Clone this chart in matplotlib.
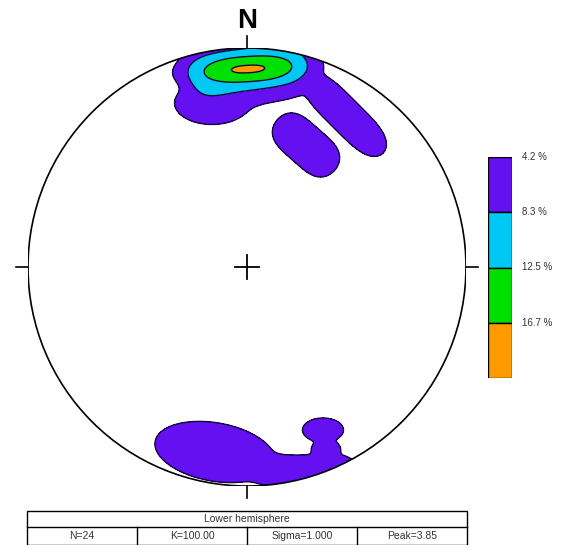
import numpy as np
import matplotlib
matplotlib.use("Agg")
import matplotlib.pyplot as plt
from matplotlib.patches import Circle, Rectangle
from matplotlib.transforms import blended_transform_factory

plt.rcParams['font.family'] = ['Liberation Sans', 'DejaVu Sans']

# ---------------- data ----------------
# density levels (percent) and their fill colours
levels = [4.2, 8.3, 12.5, 16.7]
level_labels = ["4.2 %", "8.3 %", "12.5 %", "16.7 %"]
level_colors = ["#6410f0", "#00c8f5", "#00e000", "#ff9a00"]

# pole concentrations (equal-area net, unit circle coordinates, x=East, y=North)
clu_x = [0.0046, 0.0, -0.1598, 0.4475, 0.2694, -0.1461, 0.2694, 0.3470, 0.3607]
clu_y = [0.9041, 0.8995, 0.7489, 0.6941, 0.5571, -0.8447, -0.9269, -0.7443, -0.8311]
clu_amp = [17.0, 11.0, 6.25, 6.25, 6.67, 5.83, 6.25, 6.25, 6.25]        # peak density, %
clu_sa = [0.2283, 0.2785, 0.1918, 0.2603, 0.1780, 0.3425, 0.2466, 0.1050, 0.0731]  # along
clu_sc = [0.0685, 0.1187, 0.1096, 0.0868, 0.0959, 0.1644, 0.0763, 0.0616, 0.0457]  # across
clu_ang = [3, 10, 0, -45, -41.6, -10, 3, 0, 0]                          # axis azimuth (deg)
clu_pow = [2.5, 6, 2, 4, 4, 2, 4, 2, 2]

table_title = "Lower hemisphere"
table_cells = ["N=24", "K=100.00", "Sigma=1.000", "Peak=3.85"]
north_label = "N"

# ---------------- figure ----------------
fig = plt.figure(figsize=(5.7, 5.45), dpi=100)
W, H = 570, 545

# table / background axes in pixel units
axp = fig.add_axes([0, 0, 1, 1])
axp.set_xlim(0, W)
axp.set_ylim(H, 0)
axp.axis('off')

# stereonet axes
cx, cy, R = 247, 267, 219
ax = fig.add_axes([(cx - R) / W, (H - (cy + R)) / H, 2 * R / W, 2 * R / H])
ax.set_xlim(-1, 1)
ax.set_ylim(-1, 1)
ax.axis('off')

g = np.linspace(-1.03, 1.03, 700)
X, Y = np.meshgrid(g, g)
Z = np.zeros_like(X)
K = 6.0
for x0, y0, a, sa, sc, ang, p in zip(clu_x, clu_y, clu_amp, clu_sa, clu_sc, clu_ang, clu_pow):
    t = np.radians(ang)
    u = (X - x0) * np.cos(t) + (Y - y0) * np.sin(t)
    v = -(X - x0) * np.sin(t) + (Y - y0) * np.cos(t)
    Z += (a * np.exp(-0.5 * np.abs(u / sa) ** p - 0.5 * (v / sc) ** 2)) ** K
Z = Z ** (1.0 / K)

clip = Circle((0, 0), 1.0, transform=ax.transData, facecolor='none', edgecolor='none')
ax.add_patch(clip)
cf = ax.contourf(X, Y, Z, levels=levels + [1e6], colors=level_colors)
cf.set_clip_path(clip)
cl = ax.contour(X, Y, Z, levels=levels, colors='#14083a', linewidths=1.0)
cl.set_clip_path(clip)

ax.add_patch(Circle((0, 0), 1.0, fill=False, edgecolor='black', lw=1.2, zorder=5))
tk = 12 / R
for (x1, y1, x2, y2) in [(0, 1, 0, 1 + tk), (0, -1, 0, -1 - tk), (1, 0, 1 + tk, 0), (-1, 0, -1 - tk, 0)]:
    ax.plot([x1, x2], [y1, y2], color='black', lw=1.2, clip_on=False, zorder=5)
cr = 12 / R
ax.plot([-cr, cr], [0, 0], color='black', lw=1.3, zorder=5)
ax.plot([0, 0], [-cr, cr], color='black', lw=1.3, zorder=5)
ax.text(0, (cy - 21) / R, north_label, ha='center', va='center', fontsize=20,
        fontweight='bold', clip_on=False)

# colour bar
cb_l, cb_r, cb_t, cb_b = 488, 512, 157, 378
axc = fig.add_axes([cb_l / W, (H - cb_b) / H, (cb_r - cb_l) / W, (cb_b - cb_t) / H])
n = len(levels)
axc.bar([0] * n, [1] * n, bottom=np.arange(n), width=1.0, color=level_colors,
        edgecolor='black', linewidth=1.0)
axc.set_xlim(-0.5, 0.5)
axc.set_ylim(n, 0)
axc.axis('off')
tr = blended_transform_factory(axc.transAxes, axc.transData)
for i, lab in enumerate(level_labels):
    axc.text(1.42, i, lab, transform=tr, ha='left', va='center', fontsize=7, color='#333333')

# table
tl, tr_, tt, tm, tb = 27, 467, 511, 527, 544.5
axp.add_patch(Rectangle((tl, tt), tr_ - tl, tb - tt, fill=False, edgecolor='black', lw=1.0))
axp.plot([tl, tr_], [tm, tm], color='black', lw=1.0)
ncell = len(table_cells)
cw = (tr_ - tl) / ncell
for i in range(1, ncell):
    axp.plot([tl + i * cw, tl + i * cw], [tm, tb], color='black', lw=1.0)
axp.text((tl + tr_) / 2, (tt + tm) / 2 + 0.5, table_title, ha='center', va='center',
         fontsize=7.5, color='#333333')
for i, c in enumerate(table_cells):
    axp.text(tl + (i + 0.5) * cw, (tm + tb) / 2 + 0.5, c, ha='center', va='center',
             fontsize=7.5, color='#333333')

fig.savefig("out.png", dpi=100)
